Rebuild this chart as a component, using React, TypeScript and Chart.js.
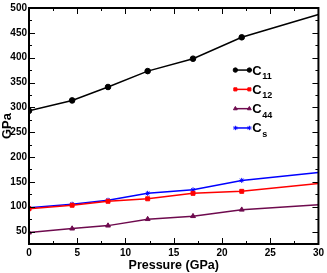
import React, { useEffect, useRef } from "react";
import { Chart, registerables, PointElement } from "chart.js";

Chart.register(...registerables);

const pressure = [0, 4.47, 8.19, 12.3, 17, 22.05, 30];
const c11 = [293, 314, 341, 373, 398, 441, 487];
const c12 = [96, 103, 111, 116, 127, 131, 147];
const c44 = [48, 56, 62, 75, 81, 94, 104];
const cs = [98, 105, 113, 127, 134, 153, 169];

const seriesNames = ["C|11", "C|12", "C|44", "C|s"];
const yTicks = [50, 100, 150, 200, 250, 300, 350, 400, 450, 500];
const xTicks = [0, 5, 10, 15, 20, 25, 30];

const framePlugin = {
  id: "frameTicks",
  afterDatasetsDraw(chart: any) {
    const { ctx, chartArea: a, scales } = chart;
    const xs = scales.x;
    const ys = scales.y;
    ctx.save();
    ctx.strokeStyle = "#000";
    ctx.lineWidth = 1;
    for (let v = 0; v <= 30.001; v += 2.5) {
      const px = Math.round(xs.getPixelForValue(v)) + 0.5;
      const major = Math.abs(v % 5) < 1e-6;
      const len = major ? 6 : 3;
      ctx.beginPath();
      ctx.moveTo(px, a.bottom);
      ctx.lineTo(px, a.bottom - len);
      ctx.moveTo(px, a.top);
      ctx.lineTo(px, a.top + len);
      ctx.stroke();
    }
    for (let v = 25; v <= 500.001; v += 25) {
      const py = Math.round(ys.getPixelForValue(v)) + 0.5;
      const major = Math.abs(v % 50) < 1e-6;
      const len = major ? 6 : 3;
      ctx.beginPath();
      ctx.moveTo(a.left, py);
      ctx.lineTo(a.left + len, py);
      ctx.moveTo(a.right, py);
      ctx.lineTo(a.right - len, py);
      ctx.stroke();
    }
    ctx.lineWidth = 2;
    ctx.strokeRect(a.left, a.top, a.right - a.left, a.bottom - a.top);
    ctx.restore();
  },
};

function drawMarker(ctx: any, ds: any, x: number, y: number) {
  const pt: any = new (PointElement as any)({});
  pt.x = x;
  pt.y = y;
  pt.options = {
    pointStyle: ds.pointStyle,
    radius: ds.pointStyle === "star" ? 2.2 : 2.2,
    borderWidth: 1,
    rotation: 0,
    backgroundColor: ds.backgroundColor,
    borderColor: ds.borderColor,
  };
  pt.draw(ctx);
}

const legendPlugin = {
  id: "subLegend",
  afterDraw(chart: any) {
    const { ctx, chartArea: a } = chart;
    const w = a.right - a.left;
    const h = a.bottom - a.top;
    const x0 = a.left + 0.713 * w;
    const x1 = x0 + 14;
    const tx = x1 + 3;
    ctx.save();
    chart.data.datasets.forEach((ds: any, i: number) => {
      const y = a.top + 0.263 * h + i * 19.3;
      ctx.strokeStyle = ds.borderColor;
      ctx.lineWidth = 1.5;
      ctx.beginPath();
      ctx.moveTo(x0, y);
      ctx.lineTo(x1, y);
      ctx.stroke();
      drawMarker(ctx, ds, x0, y);
      drawMarker(ctx, ds, x1, y);
      const [main, sub] = ds.label.split("|");
      ctx.fillStyle = "#000";
      ctx.textBaseline = "alphabetic";
      ctx.textAlign = "left";
      ctx.font = "bold 13px 'Liberation Sans', Arial, sans-serif";
      ctx.fillText(main, tx, y + 4.5);
      const mw = ctx.measureText(main).width;
      ctx.font = "bold 9px 'Liberation Sans', Arial, sans-serif";
      ctx.fillText(sub, tx + mw + 0.5, y + 9);
    });
    ctx.restore();
  },
};

export default function App() {
  const ref = useRef<HTMLCanvasElement | null>(null);
  useEffect(() => {
    document.body.style.margin = "0";
    const colors = ["#000000", "#ff0000", "#6e0a4e", "#0000ff"];
    const styles = ["circle", "rect", "triangle", "star"];
    const series = [c11, c12, c44, cs];
    const chart = new Chart(ref.current as HTMLCanvasElement, {
      type: "line",
      data: {
        datasets: series.map((s, i) => ({
          label: seriesNames[i],
          data: s.map((v, j) => ({ x: pressure[j], y: v })),
          borderColor: colors[i],
          backgroundColor: colors[i],
          borderWidth: 1.5,
          pointStyle: styles[i] as any,
          pointRadius: (c: any) =>
            c.raw && c.raw.x >= 30 ? 0 : styles[i] === "star" ? 2.5 : 2.8,
          pointBorderWidth: 1,
          tension: 0,
        })),
      },
      options: {
        responsive: false,
        animation: false,
        clip: 0 as any,
        layout: { padding: { top: 5, right: 5, left: 0, bottom: 0 } },
        plugins: { legend: { display: false }, tooltip: { enabled: false } },
        scales: {
          x: {
            type: "linear",
            min: 0,
            max: 30,
            grid: { display: false, drawTicks: false },
            border: { display: false },
            afterBuildTicks: (s: any) => {
              s.ticks = xTicks.map((v) => ({ value: v }));
            },
            afterFit: (s: any) => {
              s.height = 29;
            },
            ticks: {
              color: "#000",
              font: { family: "'Liberation Sans Narrow', 'Liberation Sans', Arial", size: 10, weight: "bold" },
              padding: 3,
              maxRotation: 0,
              autoSkip: false,
            },
            title: {
              display: true,
              text: "Pressure (GPa)",
              color: "#000",
              font: { family: "'Liberation Sans', Arial", size: 12.5, weight: "bold" },
              padding: { top: 0, bottom: 0 },
            },
          },
          y: {
            type: "linear",
            min: 25,
            max: 500,
            grid: { display: false, drawTicks: false },
            border: { display: false },
            afterBuildTicks: (s: any) => {
              s.ticks = yTicks.map((v) => ({ value: v }));
            },
            afterFit: (s: any) => {
              s.width = 29;
            },
            ticks: {
              color: "#000",
              font: { family: "'Liberation Sans Narrow', 'Liberation Sans', Arial", size: 10, weight: "bold" },
              padding: 2,
              autoSkip: false,
            },
            title: {
              display: true,
              text: "GPa",
              color: "#000",
              font: { family: "'Liberation Sans', Arial", size: 13, weight: "bold" },
              padding: { top: 0, bottom: 0 },
            },
          },
        },
      },
      plugins: [framePlugin, legendPlugin],
    });
    return () => chart.destroy();
  }, []);
  return <canvas ref={ref} width={327} height={273} />;
}
